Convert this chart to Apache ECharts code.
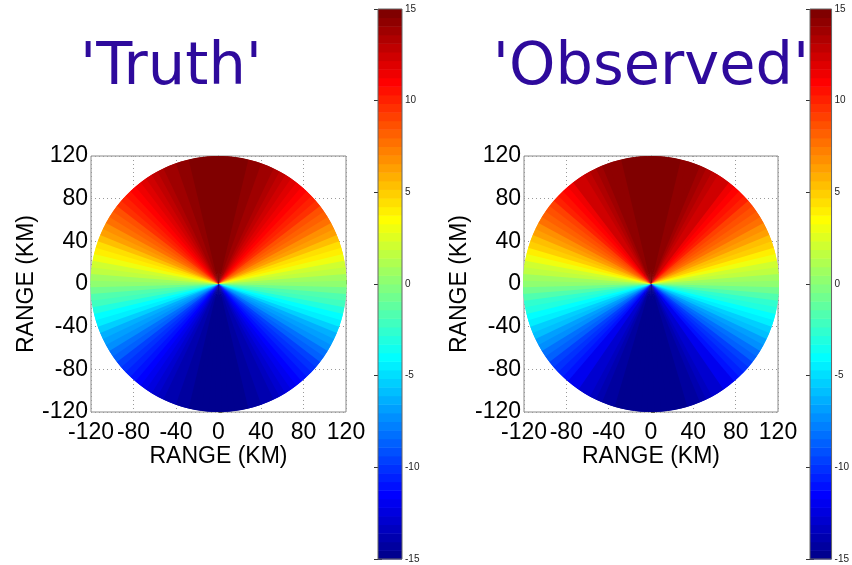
<!DOCTYPE html>
<html>
<head>
<meta charset="utf-8">
<script src="https://cdn.jsdelivr.net/npm/echarts@6/dist/echarts.min.js"></script>
<style>
  html, body { margin: 0; padding: 0; background: #fff; }
  #chart { width: 852px; height: 565px; }
</style>
</head>
<body>
<div id="chart"></div>
<script>
// Radial velocity (m/s) on a 120 km radar disk, one value per 3-degree azimuth bin,
// azimuth measured clockwise from north.
const RANGE_MAX_KM = 120;
const BIN_DEG = 3;
const AZIMUTHS = Array.from({ length: 120 }, (_, i) => i * BIN_DEG);

const TRUTH = [
  15.0, 15.0, 14.9, 14.8, 14.7, 14.5, 14.3, 14.0, 13.7, 13.4,
  13.0, 12.6, 12.1, 11.7, 11.1, 10.6, 10.0, 9.4, 8.8, 8.2,
  7.5, 6.8, 6.1, 5.4, 4.6, 3.9, 3.1, 2.3, 1.6, 0.8,
  0.0, -0.8, -1.6, -2.3, -3.1, -3.9, -4.6, -5.4, -6.1, -6.8,
  -7.5, -8.2, -8.8, -9.4, -10.0, -10.6, -11.1, -11.7, -12.1, -12.6,
  -13.0, -13.4, -13.7, -14.0, -14.3, -14.5, -14.7, -14.8, -14.9, -15.0,
  -15.0, -15.0, -14.9, -14.8, -14.7, -14.5, -14.3, -14.0, -13.7, -13.4,
  -13.0, -12.6, -12.1, -11.7, -11.1, -10.6, -10.0, -9.4, -8.8, -8.2,
  -7.5, -6.8, -6.1, -5.4, -4.6, -3.9, -3.1, -2.3, -1.6, -0.8,
  0.0, 0.8, 1.6, 2.3, 3.1, 3.9, 4.6, 5.4, 6.1, 6.8,
  7.5, 8.2, 8.8, 9.4, 10.0, 10.6, 11.1, 11.7, 12.1, 12.6,
  13.0, 13.4, 13.7, 14.0, 14.3, 14.5, 14.7, 14.8, 14.9, 15.0
];

const OBSERVED = [
  15.0, 14.9, 14.9, 14.7, 14.7, 14.4, 14.3, 14.1, 13.6, 13.4,
  12.9, 12.6, 12.2, 11.6, 11.2, 10.5, 10.1, 9.3, 8.9, 8.1,
  7.6, 6.7, 6.2, 5.3, 4.7, 3.8, 3.2, 2.2, 1.7, 0.7,
  0.1, -0.9, -1.5, -2.4, -3.0, -4.0, -4.5, -5.5, -6.0, -6.9,
  -7.4, -8.3, -8.7, -9.5, -9.9, -10.7, -11.0, -11.8, -12.0, -12.7,
  -12.9, -13.5, -13.6, -14.1, -14.2, -14.6, -14.6, -14.9, -14.8, -15.0,
  -14.9, -15.0, -14.8, -14.9, -14.6, -14.6, -14.2, -14.1, -13.6, -13.5,
  -12.9, -12.7, -12.0, -11.8, -11.0, -10.7, -9.9, -9.5, -8.7, -8.3,
  -7.4, -6.9, -6.0, -5.5, -4.5, -4.0, -3.0, -2.4, -1.5, -0.9,
  0.1, 0.7, 1.7, 2.2, 3.2, 3.8, 4.7, 5.3, 6.2, 6.7,
  7.6, 8.1, 8.9, 9.3, 10.1, 10.5, 11.2, 11.6, 12.2, 12.6,
  12.9, 13.4, 13.6, 14.1, 14.3, 14.4, 14.7, 14.7, 14.9, 14.9
];

const AXIS_TICKS_KM = [-120, -80, -40, 0, 40, 80, 120];
const COLOR_MIN = -15;
const COLOR_MAX = 15;
const COLORBAR_TICKS = [-15, -10, -5, 0, 5, 10, 15];
const PANEL_TITLES = ["'Truth'", "'Observed'"];
const AXIS_NAME = 'RANGE (KM)';

// 64-level jet colormap
const JET = (function () {
  const n = 64, m = Math.ceil(n / 4);
  const u = [];
  for (let i = 1; i <= m; i++) u.push(i / m);
  for (let i = 0; i < m - 1; i++) u.push(1);
  for (let i = m; i >= 1; i--) u.push(i / m);
  const L = u.length;
  const J = Array.from({ length: n }, () => [0, 0, 0]);
  const g = [], r = [], b = [];
  for (let i = 1; i <= L; i++) {
    const gi = Math.ceil(m / 2) - (n % 4 === 1 ? 1 : 0) + i;
    g.push(gi); r.push(gi + m); b.push(gi - m);
  }
  const gg = g.filter(v => v <= n), rr = r.filter(v => v <= n), bb = b.filter(v => v >= 1);
  rr.forEach((idx, j) => { J[idx - 1][0] = u[j]; });
  gg.forEach((idx, j) => { J[idx - 1][1] = u[j]; });
  bb.forEach((idx, j) => { J[idx - 1][2] = u[L - bb.length + j]; });
  return J.map(c => 'rgb(' + c.map(v => Math.round(v * 255)).join(',') + ')');
})();

function levelOf(v) {
  const k = Math.floor((v - COLOR_MIN) / (COLOR_MAX - COLOR_MIN) * JET.length);
  return Math.max(0, Math.min(JET.length - 1, k));
}
function colorOf(v) { return JET[levelOf(v)]; }

const COLOR_LEVELS = JET.map((c, k) => [
  COLOR_MIN + k * (COLOR_MAX - COLOR_MIN) / JET.length,
  COLOR_MIN + (k + 1) * (COLOR_MAX - COLOR_MIN) / JET.length,
  k
]);

// Sector from the radar site out to RANGE_MAX_KM for one azimuth bin.
// Each sector also reaches across the following bin, which the next item
// paints over, so no background shows through between neighbours.
function renderWedge(params, api) {
  const az = api.value(0);
  const v = api.value(1);
  const c = api.coord([0, 0]);
  const e = api.coord([0, RANGE_MAX_KM]);
  const r = Math.abs(c[1] - e[1]);
  // screen angle: 0 = east, clockwise; azimuth 0 = north
  const a0 = (az - BIN_DEG / 2 - 90) * Math.PI / 180;
  const a1 = (az + BIN_DEG * 1.5 - 90) * Math.PI / 180;
  return {
    type: 'sector',
    shape: { cx: c[0], cy: c[1], r0: 0, r: r, startAngle: a0, endAngle: a1, clockwise: true },
    style: { fill: colorOf(v) }
  };
}

function renderLevel(params, api) {
  const lo = api.value(0), hi = api.value(1), k = api.value(2);
  const p0 = api.coord([0, hi]);
  const p1 = api.coord([1, lo]);
  return {
    type: 'rect',
    shape: { x: p0[0], y: p0[1], width: p1[0] - p0[0], height: p1[1] - p0[1] + 0.5 },
    style: { fill: JET[k] }
  };
}

const FONT = 'Liberation Sans, Arial, Helvetica, sans-serif';
const FRAME = '#8a8a8a';

const panels = [
  { grid: { left: 91, top: 156, width: 255, height: 256 }, bar: { left: 378, top: 9, width: 24, height: 550 }, data: TRUTH, titleX: 166 },
  { grid: { left: 524, top: 156, width: 254, height: 256 }, bar: { left: 810, top: 9, width: 23, height: 550 }, data: OBSERVED, titleX: 646 }
];

const grids = [], xAxes = [], yAxes = [], series = [], titles = [];

panels.forEach((p, i) => {
  // plot panel
  const gi = grids.length;
  grids.push(Object.assign({ show: true, borderColor: FRAME, borderWidth: 1, backgroundColor: '#fff' }, p.grid));
  const axisCommon = {
    type: 'value', min: -RANGE_MAX_KM, max: RANGE_MAX_KM, interval: 40,
    axisLine: { show: true, lineStyle: { color: FRAME, width: 1 } },
    axisTick: { show: true, inside: true, length: 4, lineStyle: { color: '#555' } },
    splitLine: { show: true, lineStyle: { color: '#9a9a9a', type: [1, 3], width: 1 } },
    nameTextStyle: { fontFamily: FONT, fontSize: 23, color: '#000' },
    name: AXIS_NAME, nameLocation: 'middle'
  };
  xAxes.push(Object.assign({}, axisCommon, {
    gridIndex: gi, position: 'bottom', nameGap: 33,
    axisLabel: { fontFamily: FONT, fontSize: 23, color: '#000', margin: 9,
      formatter: v => AXIS_TICKS_KM.includes(v) ? String(v) : '' }
  }));
  yAxes.push(Object.assign({}, axisCommon, {
    gridIndex: gi, position: 'left', nameGap: 52, nameRotate: 90,
    axisLabel: { fontFamily: FONT, fontSize: 23, color: '#000', margin: 3,
      formatter: v => AXIS_TICKS_KM.includes(v) ? String(v) : '' }
  }));
  series.push({
    type: 'custom', xAxisIndex: xAxes.length - 1, yAxisIndex: yAxes.length - 1,
    renderItem: renderWedge, clip: false, silent: true,
    encode: { x: -1, y: -1 },
    data: AZIMUTHS.map((az, k) => [az, p.data[k]])
  });

  // colorbar
  const bi = grids.length;
  grids.push(Object.assign({ show: true, borderColor: '#666', borderWidth: 1, backgroundColor: 'transparent', z: 5 }, p.bar));
  xAxes.push({ type: 'value', gridIndex: bi, min: 0, max: 1, show: false });
  const barAxis = {
    type: 'value', gridIndex: bi, min: COLOR_MIN, max: COLOR_MAX, interval: 5,
    axisLine: { show: false },
    axisTick: { show: true, inside: true, length: 4, lineStyle: { color: '#333' } },
    splitLine: { show: false }
  };
  yAxes.push(Object.assign({}, barAxis, {
    position: 'right',
    axisLabel: { show: true, fontFamily: FONT, fontSize: 10, color: '#222', margin: 3,
      formatter: v => COLORBAR_TICKS.includes(v) ? String(v) : '' }
  }));
  series.push({
    type: 'custom', xAxisIndex: xAxes.length - 1, yAxisIndex: yAxes.length - 1,
    renderItem: renderLevel, silent: true, z: 1,
    encode: { x: -1, y: -1 },
    data: COLOR_LEVELS
  });
  yAxes.push(Object.assign({}, barAxis, {
    position: 'left', axisLabel: { show: false }
  }));

  titles.push({
    text: PANEL_TITLES[i], left: p.titleX, top: 64, textAlign: 'center', textVerticalAlign: 'middle',
    textStyle: { fontFamily: 'DejaVu Sans', fontSize: 59, fontWeight: 'normal', color: '#2e0a9c' }
  });
});

const chart = echarts.init(document.getElementById('chart'), null, { renderer: 'canvas' });
chart.setOption({
  animation: false,
  backgroundColor: '#fff',
  title: titles,
  grid: grids,
  xAxis: xAxes,
  yAxis: yAxes,
  series: series
});
</script>
</body>
</html>
